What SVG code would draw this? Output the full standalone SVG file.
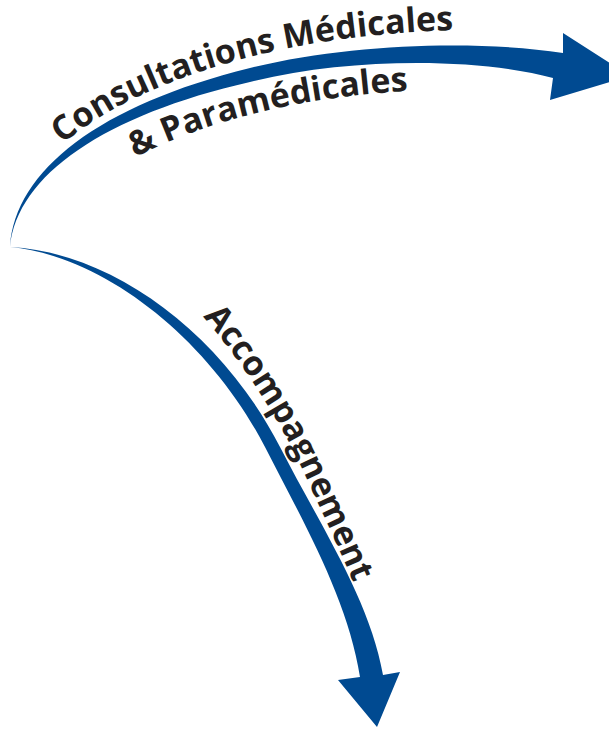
<svg xmlns="http://www.w3.org/2000/svg" width="609" height="730" viewBox="0 0 609 730">
<style>
.arrow{fill:#004a91;stroke:none}
.lbl{font-family:"Open Sans","Liberation Sans",sans-serif;font-weight:bold;font-size:34px;fill:#231f20}
</style>
<defs>
<path id="p1" d="M58,148 C115,97 215,58 335,40 C395,32 445,29 500,30"/>
<path id="p2" d="M128,161 C205,120 305,95 425,90"/>
<path id="p3" d="M199,312 C249,369 284,429 305,475 C334,539 364,599 381,659"/>
</defs>
<rect width="609" height="730" fill="#ffffff"/>
<g id="connectors">
<path id="arrow-consultations" class="arrow" d="M10,247 C15,170 100,105 250,68 C350,43 480,40 563,53 L563,33 L630,76 L550,100 L553,78 C480,58 350,57 250,82 C105,115 17,175 10,247 Z"/>
<path id="arrow-accompagnement" class="arrow" d="M10,247 C110,252 220,330 280,447 C320,525 370,600 383,675 L400,672 L377,727 L338,680 L360,677 C348,600 305,525 265,447 C210,340 105,256 10,247 Z"/>
</g>
<g id="label-consultations">
<text class="lbl"><textPath href="#p1" startOffset="6">Consultations Médicales</textPath></text>
</g>
<g id="label-paramedicales">
<text class="lbl"><textPath href="#p2" startOffset="8">&amp; Paramédicales</textPath></text>
</g>
<g id="label-accompagnement">
<text class="lbl"><textPath href="#p3" startOffset="6">Accompagnement</textPath></text>
</g>
</svg>
